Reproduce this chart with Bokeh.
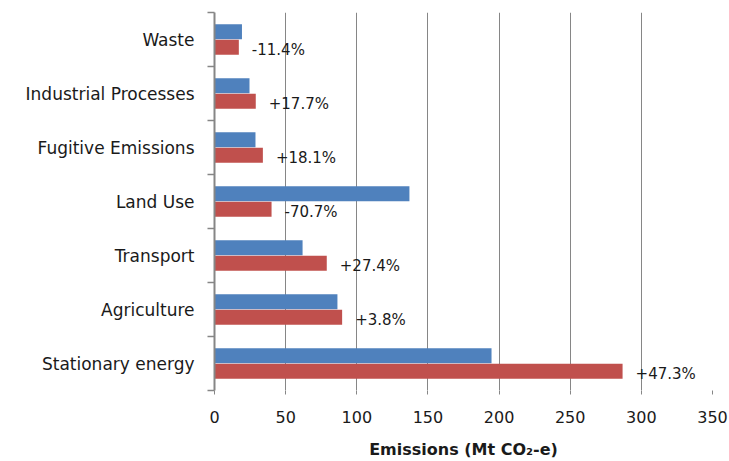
from bokeh.plotting import figure
from bokeh.models import FixedTicker, ColumnDataSource, Range1d
from bokeh.core.properties import value
from bokeh.embed import file_html
from bokeh.resources import INLINE

categories = ["Stationary energy", "Agriculture", "Transport", "Land Use",
              "Fugitive Emissions", "Industrial Processes", "Waste"]
emissions_1990 = [194.7, 86.4, 61.9, 137.0, 28.8, 24.6, 19.3]
emissions_2007 = [286.8, 89.7, 78.9, 40.1, 34.0, 29.0, 17.1]
change_labels = ["+47.3%", "+3.8%", "+27.4%", "-70.7%", "+18.1%", "+17.7%", "-11.4%"]
x_ticks = [0, 50, 100, 150, 200, 250, 300, 350]

FONT = "DejaVu Sans"
BLUE = "#4F81BD"
RED = "#C0504D"
GRID = "#868686"
TXT = "#1a1a1a"

n = len(categories)
idx = list(range(n))
off = 0.143
h = 0.28

src = ColumnDataSource(dict(
    y_blue=[i + off for i in idx],
    y_red=[i - off for i in idx],
    v1=emissions_1990,
    v2=emissions_2007,
    lab=change_labels,
))

p = figure(width=729, height=461, output_backend="svg", toolbar_location=None,
           x_range=Range1d(0, 350), y_range=Range1d(-0.5, n - 0.5))
p.min_border_left = 214
p.min_border_right = 17
p.min_border_top = 12
p.min_border_bottom = 71
p.outline_line_color = None
p.background_fill_color = "white"
p.border_fill_color = "white"

p.hbar(y="y_blue", right="v1", left=0, height=h, source=src,
       fill_color=BLUE, line_color=None)
p.hbar(y="y_red", right="v2", left=0, height=h, source=src,
       fill_color=RED, line_color=None)
p.text(x="v2", y="y_red", text="lab", source=src, x_offset=13, y_offset=3,
       text_baseline="middle", text_align="left", text_color=TXT,
       text_font=value(FONT), text_font_size="15px")

# x axis
p.xaxis.ticker = FixedTicker(ticks=x_ticks)
p.xaxis.axis_line_color = None
p.xaxis.major_tick_line_color = GRID
p.xaxis.major_tick_out = 4
p.xaxis.major_tick_in = 0
p.xaxis.minor_tick_line_color = None
p.xaxis.major_label_text_font = FONT
p.xaxis.major_label_text_font_size = "16px"
p.xaxis.major_label_text_color = TXT
p.xaxis.major_label_standoff = 16
p.xaxis.axis_label = "Emissions (Mt CO\u2082-e)"
p.xaxis.axis_label_text_font = FONT
p.xaxis.axis_label_text_font_style = "bold"
p.xaxis.axis_label_text_font_size = "16px"
p.xaxis.axis_label_text_color = TXT
p.xaxis.axis_label_standoff = 14

p.xgrid.ticker = FixedTicker(ticks=x_ticks)
p.xgrid.grid_line_color = GRID
p.xgrid.grid_line_width = 1
p.ygrid.grid_line_color = None

# y axis
p.yaxis.ticker = FixedTicker(ticks=idx, minor_ticks=[i - 0.5 for i in range(n + 1)])
p.yaxis.major_label_overrides = {i: c for i, c in enumerate(categories)}
p.yaxis.major_tick_line_color = None
p.yaxis.minor_tick_line_color = GRID
p.yaxis.minor_tick_out = 7
p.yaxis.minor_tick_in = 0
p.yaxis.minor_tick_line_width = 1.5
p.yaxis.axis_line_color = GRID
p.yaxis.axis_line_width = 2
p.yaxis.major_label_text_font = FONT
p.yaxis.major_label_text_font_size = "17px"
p.yaxis.major_label_text_color = TXT
p.yaxis.major_label_standoff = 13

open("out.html", "w").write(file_html(p, INLINE))
